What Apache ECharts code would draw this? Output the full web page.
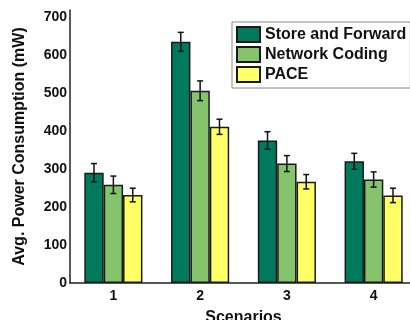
<!DOCTYPE html>
<html>
<head>
<meta charset="utf-8">
<script src="https://cdn.jsdelivr.net/npm/echarts@6/dist/echarts.min.js"></script>
<style>
  html, body { margin: 0; padding: 0; background: #fff; }
  #chart { width: 410px; height: 320px; }
</style>
</head>
<body>
<div id="chart"></div>
<script>
// Scenario labels on the x axis
const scenarios = ['1', '2', '3', '4'];
// Series names
const seriesNames = ['Store and Forward', 'Network Coding', 'PACE'];
// Mean power consumption (mW) per scenario
const storeForward = [291, 636, 376, 321];
const networkCoding = [259, 507, 315, 273];
const pace = [232, 412, 267, 231];
// Error half-ranges (mW)
const storeForwardErr = [24, 25, 23, 21];
const networkCodingErr = [23, 26, 21, 20];
const paceErr = [18, 20, 19, 19];
// Y axis tick step and range
const yTickStep = 100;
const yMax = 720;

const colors = ['#007A5C', '#85C46C', '#FFFF66'];
const means = [storeForward, networkCoding, pace];
const errs = [storeForwardErr, networkCodingErr, paceErr];
const catGap = 0.33;
const font = '"Liberation Sans", Arial, sans-serif';

const chart = echarts.init(document.getElementById('chart'), null, { renderer: 'canvas' });

const barSeries = seriesNames.map((name, i) => ({
  name: name,
  type: 'bar',
  data: means[i],
  barGap: '0%',
  barCategoryGap: (catGap * 100) + '%',
  itemStyle: { color: colors[i], borderColor: '#1a1a1a', borderWidth: 1.5 },
  emphasis: { disabled: true },
  z: 2
}));

const errorSeries = seriesNames.map((name, i) => ({
  type: 'custom',
  name: name + ' error',
  data: means[i].map((m, k) => [k, m - errs[i][k], m + errs[i][k]]),
  z: 5,
  silent: true,
  renderItem: function (params, api) {
    const k = api.value(0);
    const lo = api.coord([k, api.value(1)]);
    const hi = api.coord([k, api.value(2)]);
    const band = api.size([1, 0])[0];
    const bw = band * (1 - catGap) / 3;
    const x = lo[0] - band * (1 - catGap) / 2 + bw * (i + 0.5);
    const cap = 3;
    const style = { stroke: '#111', lineWidth: 1.5 };
    return {
      type: 'group',
      children: [
        { type: 'line', shape: { x1: x, y1: lo[1], x2: x, y2: hi[1] }, style: style },
        { type: 'line', shape: { x1: x - cap, y1: lo[1], x2: x + cap, y2: lo[1] }, style: style },
        { type: 'line', shape: { x1: x - cap, y1: hi[1], x2: x + cap, y2: hi[1] }, style: style }
      ]
    };
  }
}));

chart.setOption({
  animation: false,
  textStyle: { fontFamily: font },
  grid: { left: 70, right: -7, top: 10, bottom: 37, outerBoundsMode: 'none', containLabel: false },
  legend: {
    data: seriesNames,
    orient: 'vertical',
    left: 232,
    top: 22,
    padding: [4, 4, 5, 4],
    itemGap: 3,
    itemWidth: 23,
    itemHeight: 15,
    icon: 'rect',
    borderColor: '#888',
    borderWidth: 1,
    backgroundColor: '#fff',
    textStyle: { fontFamily: font, fontWeight: 'bold', fontSize: 16, lineHeight: 15, color: '#111' }
  },
  xAxis: {
    type: 'category',
    data: scenarios,
    name: 'Scenarios',
    nameLocation: 'middle',
    nameGap: 27,
    nameTextStyle: { fontFamily: font, fontWeight: 'bold', fontSize: 16, color: '#111' },
    axisLine: { lineStyle: { color: '#222', width: 1.5 } },
    axisTick: { show: false },
    axisLabel: { fontFamily: font, fontWeight: 'bold', fontSize: 14, color: '#111', margin: 6 }
  },
  yAxis: {
    type: 'value',
    min: 0,
    max: yMax,
    interval: yTickStep,
    name: 'Avg. Power Consumption (mW)',
    nameLocation: 'middle',
    nameGap: 42,
    nameTextStyle: { fontFamily: font, fontWeight: 'bold', fontSize: 16, color: '#111' },
    axisLine: { show: true, lineStyle: { color: '#222', width: 1.5 } },
    axisTick: { show: false },
    splitLine: { show: false },
    axisLabel: {
      fontFamily: font, fontWeight: 'bold', fontSize: 14, color: '#111', margin: 3,
      showMaxLabel: false,
      formatter: v => (v % yTickStep === 0 ? String(v) : '')
    }
  },
  series: barSeries.concat(errorSeries)
});
</script>
</body>
</html>
